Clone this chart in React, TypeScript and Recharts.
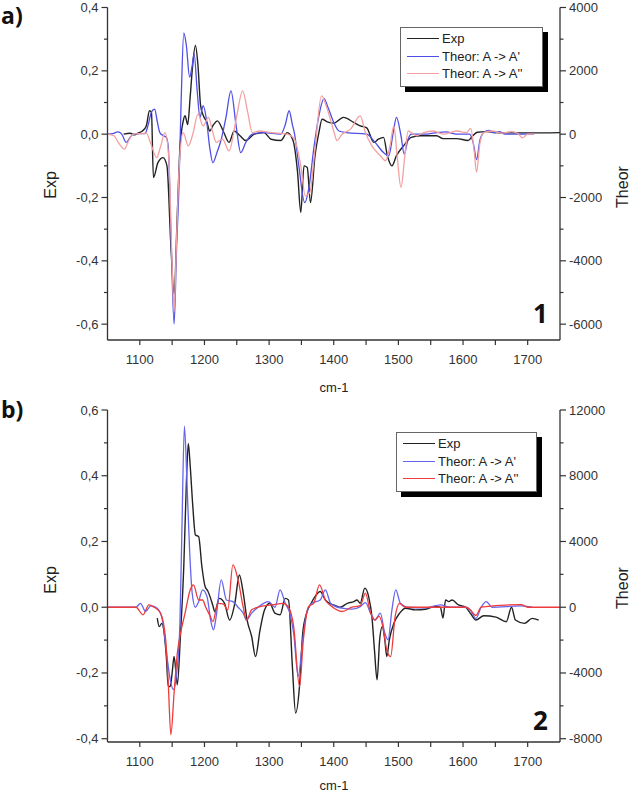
import React from 'react';
import { LineChart, Line, XAxis, YAxis, Legend } from 'recharts';

const FONT = "'Liberation Sans', Arial, sans-serif";
const INK = '#333';

// wavenumber axis (cm-1)
const xTicks = [1100, 1150, 1200, 1250, 1300, 1350, 1400, 1450, 1500, 1550, 1600, 1650, 1700];
const xLabels = [1100, 1200, 1300, 1400, 1500, 1600, 1700];

// panel a axes
const expTicksA = [-0.6, -0.5, -0.4, -0.3, -0.2, -0.1, 0, 0.1, 0.2, 0.3, 0.4];
const expLabelsA = [-0.6, -0.4, -0.2, 0, 0.2, 0.4];
const theorTicksA = [-6000, -5000, -4000, -3000, -2000, -1000, 0, 1000, 2000, 3000, 4000];
const theorLabelsA = [-6000, -4000, -2000, 0, 2000, 4000];

// panel b axes
const expTicksB = [-0.4, -0.3, -0.2, -0.1, 0, 0.1, 0.2, 0.3, 0.4, 0.5, 0.6];
const expLabelsB = [-0.4, -0.2, 0, 0.2, 0.4, 0.6];
const theorTicksB = [-8000, -6000, -4000, -2000, 0, 2000, 4000, 6000, 8000, 10000, 12000];
const theorLabelsB = [-8000, -4000, 0, 4000, 8000, 12000];

const seriesNames = ['Exp', "Theor: A -> A'", "Theor: A -> A''"];

// ---- panel a (compound 1) ----
const expA: [number, number][] = [
  [1075, 0], [1085, 0.003], [1092, -0.002], [1098, 0.004], [1104, 0.01], [1110, 0.026], [1115, 0.074],
  [1118, 0.07], [1121, -0.137], [1128, -0.09], [1136, -0.074], [1142, -0.1], [1148, -0.35], [1153, -0.505],
  [1158, -0.25], [1162, -0.047], [1167, 0.04], [1170, 0.058], [1174, 0.03], [1178, 0.12], [1181, 0.2],
  [1186, 0.28], [1190, 0.216], [1194, 0.09], [1199, 0.055], [1204, 0.037], [1208, 0.01], [1214, 0.03],
  [1220, 0.042], [1229, 0.01], [1238, -0.026], [1246, 0.01], [1255, -0.005], [1264, -0.02], [1277, 0],
  [1292, 0.005], [1303, -0.016], [1318, -0.02], [1328, 0.005], [1337, -0.02], [1344, -0.12], [1349, -0.247],
  [1354, -0.1], [1359, -0.105], [1364, -0.216], [1371, -0.068], [1377, 0.005], [1382, 0.047], [1390, 0.039],
  [1400, 0.035], [1415, 0.053], [1431, 0.037], [1441, 0.026], [1451, 0.02], [1462, -0.026], [1469, -0.016],
  [1477, -0.01], [1483, -0.068], [1490, -0.1], [1497, -0.068], [1508, -0.037], [1520, -0.01], [1533, -0.005],
  [1559, -0.005], [1569, -0.014], [1590, -0.014], [1608, -0.02], [1615, -0.005], [1622, 0.006], [1636, 0.008],
  [1660, 0.004], [1700, 0.004], [1750, 0.005],
];

const theor1A: [number, number][] = [
  [1050, 0], [1058, 20], [1066, 70], [1072, 0], [1079, -260], [1085, -100], [1090, 0], [1100, 20], [1108, 20],
  [1113, 300], [1118, 700], [1123, 790], [1127, 400], [1131, 50], [1136, -40], [1141, -100], [1144, -400],
  [1148, -3000], [1153, -6000], [1157, -3500], [1160, -2000], [1164, 1100], [1168, 3200], [1172, 2800],
  [1177, 1800], [1181, 2160], [1184, 2530], [1189, 1300], [1193, 530], [1198, 900], [1203, 470], [1208, -400],
  [1213, -900], [1219, -600], [1226, -160], [1233, 500], [1241, 1370], [1249, 260], [1256, -580], [1264, -260],
  [1274, 0], [1292, 50], [1318, 0], [1325, 300], [1331, 740], [1336, 300], [1339, 50], [1346, -1000],
  [1355, -2160], [1362, -1630], [1369, -470], [1377, 580], [1385, 1120], [1391, 850], [1400, 370], [1408, 100],
  [1420, 50], [1451, 0], [1464, -260], [1477, -580], [1485, -680], [1492, 50], [1497, 530], [1504, -50],
  [1509, -630], [1515, -160], [1520, 0], [1539, 0], [1560, 50], [1574, 70], [1590, 0], [1610, 0], [1616, -300],
  [1621, -800], [1626, -200], [1632, 50], [1640, 120], [1648, 40], [1656, 80], [1665, 0], [1690, 0], [1710, 0],
];

const theor2A: [number, number][] = [
  [1050, 0], [1060, -50], [1068, -300], [1076, -470], [1083, -200], [1090, 0], [1100, 20], [1110, 30],
  [1117, -300], [1126, -740], [1132, -400], [1139, 50], [1145, -800], [1149, -3500], [1153, -5600],
  [1157, -3200], [1161, -1000], [1167, 50], [1175, -370], [1182, 0], [1190, 630], [1198, 260], [1206, 530],
  [1213, 50], [1218, -260], [1228, -160], [1238, -530], [1249, 470], [1259, 1370], [1267, 680], [1274, 50],
  [1285, 100], [1303, 50], [1328, 0], [1339, -160], [1349, -1000], [1356, -1950], [1363, -1840], [1371, -470],
  [1381, 1210], [1390, 790], [1400, 100], [1405, -200], [1413, 0], [1426, 160], [1441, 580], [1449, 50],
  [1459, -370], [1472, -680], [1480, -840], [1487, -370], [1493, 260], [1498, -680], [1504, -1680],
  [1510, -680], [1515, 100], [1520, 50], [1528, -50], [1539, 50], [1554, 100], [1570, 0], [1590, 100],
  [1605, 50], [1612, 180], [1617, -500], [1621, -1200], [1626, -300], [1632, 50], [1645, 100], [1660, 30],
  [1675, 80], [1685, 20], [1692, -120], [1700, 0], [1710, 0],
];

// ---- panel b (compound 2) ----
const expB: [number, number][] = [
  [1127, -0.033], [1130, -0.059], [1134, -0.049], [1137, -0.069], [1141, -0.15], [1144, -0.241], [1147, -0.241],
  [1150, -0.2], [1153, -0.15], [1156, -0.2], [1158, -0.236], [1163, -0.079], [1168, 0.124], [1172, 0.377],
  [1175, 0.498], [1178, 0.428], [1182, 0.306], [1186, 0.22], [1191, 0.215], [1196, 0.124], [1201, 0.063],
  [1205, 0.05], [1209, 0.03], [1213, 0.005], [1216, -0.013], [1223, 0.027], [1231, 0.012], [1239, -0.039],
  [1247, 0.012], [1254, 0.098], [1260, 0.043], [1266, -0.039], [1273, -0.089], [1279, -0.15], [1286, -0.069],
  [1293, -0.008], [1301, 0.012], [1309, -0.018], [1317, -0.023], [1325, 0.027], [1330, 0.022], [1336, -0.18],
  [1341, -0.322], [1347, -0.241], [1352, -0.079], [1358, -0.018], [1365, 0.012], [1371, 0.032], [1379, 0.048],
  [1387, 0.022], [1395, 0.01], [1400, 0.007], [1410, 0], [1421, 0.012], [1431, 0.017], [1436, 0.022],
  [1441, 0.012], [1448, 0.058], [1454, 0.032], [1459, -0.028], [1463, -0.13], [1467, -0.221], [1471, -0.099],
  [1475, -0.059], [1479, -0.099], [1482, -0.15], [1486, -0.099], [1493, -0.049], [1502, -0.018], [1511, -0.003],
  [1526, -0.008], [1542, -0.006], [1557, 0.002], [1565, 0], [1569, -0.033], [1573, 0.022], [1578, 0.017],
  [1583, 0.022], [1593, 0.007], [1604, 0], [1612, -0.02], [1620, -0.039], [1632, -0.026], [1651, -0.03],
  [1667, -0.044], [1675, 0], [1681, -0.039], [1695, -0.049], [1707, -0.034], [1717, -0.039],
];

const theor1B: [number, number][] = [
  [1050, 0], [1094, 0], [1101, 240], [1109, -260], [1117, 80], [1127, -60], [1135, -780], [1142, -3000],
  [1147, -4400], [1152, -5000], [1157, -4000], [1162, -1000], [1165, 4500], [1169, 11020], [1173, 7540],
  [1177, 3480], [1181, 860], [1186, 0], [1191, 340], [1197, 1060], [1204, 640], [1210, -880], [1214, -1380],
  [1218, -600], [1226, 1660], [1234, 440], [1244, 340], [1252, 0], [1260, -360], [1265, -780], [1273, -360],
  [1283, 0], [1299, 340], [1309, 0], [1317, 1060], [1325, 240], [1332, -360], [1338, -1580], [1345, -4200],
  [1352, -1980], [1358, -360], [1366, 240], [1379, 440], [1387, 1060], [1395, 240], [1400, 100], [1413, -60],
  [1428, -120], [1441, 40], [1449, 280], [1457, -360], [1464, -780], [1472, -360], [1479, -1580],
  [1484, -1980], [1490, -160], [1496, 1060], [1503, 240], [1513, 0], [1542, -40], [1565, 140], [1580, 0],
  [1604, 0], [1612, -200], [1620, -680], [1628, 0], [1636, 340], [1645, 0], [1688, 80], [1707, 0],
];

const theor2B: [number, number][] = [
  [1050, 0], [1094, 0], [1105, -460], [1114, 140], [1122, 0], [1132, -360], [1140, -1980], [1144, -4620],
  [1148, -7760], [1153, -5220], [1158, -2800], [1163, -1580], [1170, -360], [1178, 1060], [1183, 1360],
  [1191, 440], [1197, 440], [1202, 0], [1209, -560], [1213, -880], [1221, 240], [1229, 200], [1236, -160],
  [1244, 2580], [1252, 1660], [1260, 0], [1265, -780], [1273, -160], [1283, 0], [1304, 140], [1322, 240],
  [1330, 0], [1338, -1180], [1347, -4820], [1353, -1980], [1361, 40], [1369, 240], [1378, 1360], [1387, 440],
  [1397, 40], [1413, -260], [1428, 0], [1441, 100], [1449, 860], [1457, -360], [1463, -780], [1470, -560],
  [1476, -1180], [1482, -2600], [1488, -3000], [1495, -560], [1502, 240], [1511, 0], [1605, 0], [1611, -160],
  [1620, -500], [1628, 0], [1690, 160], [1700, 0], [1750, 0],
];

const toPoints = (pairs: [number, number][]) => pairs.map(([x, y]) => ({ x, y }));

const hasValue = (list: number[], v: number) => list.some((l) => Math.abs(l - v) < 1e-6);
const fmtExp = (v: number) => v.toFixed(1).replace('.', ',');
const fmtTheor = (v: number) => String(v);

type Side = 'left' | 'right' | 'bottom' | 'top';

// tick renderer: with tickSize=0 and tickMargin=0, (x, y) sits on the axis line
const makeTick = (side: Side, labels: number[], fmt: ((v: number) => string) | null) => (p: any) => {
  const { x, y, payload } = p;
  const v = payload.value;
  const major = hasValue(labels, v);
  const len = side === 'top' || side === 'bottom' ? 5 : major ? 6 : 3.5;
  const line =
    side === 'left' ? { x1: x - len, x2: x, y1: y, y2: y }
    : side === 'right' ? { x1: x, x2: x + len, y1: y, y2: y }
    : { x1: x, x2: x, y1: y, y2: y + len };
  let label = null;
  if (fmt && major) {
    const t =
      side === 'left' ? { x: x - 9, y: y + 4.5, anchor: 'end' }
      : side === 'right' ? { x: x + 9, y: y + 4.5, anchor: 'start' }
      : { x, y: y + 24, anchor: 'middle' };
    label = (
      <text x={t.x} y={t.y} textAnchor={t.anchor} fontSize={13} fontFamily={FONT} fill={INK}>
        {fmt(v)}
      </text>
    );
  }
  return (
    <g>
      <line {...line} stroke={INK} strokeWidth={1.2} />
      {label}
    </g>
  );
};

const LegendBox = ({ colors, width }: { colors: string[]; width: number }) => (
  <div
    style={{
      width,
      background: '#fff',
      border: '1px solid #666',
      boxShadow: '5px 5px 0 #000',
      padding: '2px 0 3px 6px',
      boxSizing: 'border-box',
      fontFamily: FONT,
      fontSize: 13,
      color: '#222',
    }}
  >
    {seriesNames.map((name, i) => (
      <div key={name} style={{ display: 'flex', alignItems: 'center', height: 17.5 }}>
        <span style={{ display: 'inline-block', width: 32, height: 0, borderTop: `1.5px solid ${colors[i]}`, marginRight: 3 }} />
        <span>{name}</span>
      </div>
    ))}
  </div>
);

interface PanelProps {
  height: number;
  margin: { top: number; right: number; bottom: number; left: number };
  exp: [number, number][];
  theor1: [number, number][];
  theor2: [number, number][];
  expDomain: [number, number];
  theorDomain: [number, number];
  expTicks: number[];
  expLabels: number[];
  theorTicks: number[];
  theorLabels: number[];
  colors: string[];
  legendPos: { left: number; top: number; width: number };
}

const Panel = (p: PanelProps) => (
  <LineChart width={632} height={p.height} margin={p.margin}>
    <XAxis
      xAxisId="b" type="number" dataKey="x" domain={[1050, 1750]} ticks={xTicks} interval={0}
      allowDataOverflow height={30} tickLine={false} tickSize={0} tickMargin={0}
      stroke={INK} strokeWidth={1.3} tick={makeTick('bottom', xLabels, fmtTheor)}
    />
    <XAxis
      xAxisId="t" orientation="top" mirror type="number" dataKey="x" domain={[1050, 1750]} ticks={xTicks}
      interval={0} allowDataOverflow height={0} tickLine={false} tickSize={0} tickMargin={0}
      stroke={INK} strokeWidth={1.3} tick={makeTick('top', xLabels, null)}
    />
    <YAxis
      yAxisId="l" type="number" domain={p.expDomain} ticks={p.expTicks} interval={0} allowDataOverflow
      width={60} tickLine={false} tickSize={0} tickMargin={0} stroke={INK} strokeWidth={1.3}
      tick={makeTick('left', p.expLabels, fmtExp)}
    />
    <YAxis
      yAxisId="r" orientation="right" type="number" domain={p.theorDomain} ticks={p.theorTicks} interval={0}
      allowDataOverflow width={60} tickLine={false} tickSize={0} tickMargin={0} stroke={INK} strokeWidth={1.3}
      tick={makeTick('right', p.theorLabels, fmtTheor)}
    />
    <Legend
      layout="vertical" align="center" verticalAlign="middle"
      wrapperStyle={{ left: p.legendPos.left, top: p.legendPos.top, width: p.legendPos.width }}
      content={() => <LegendBox colors={p.colors} width={p.legendPos.width} />}
    />
    <Line
      xAxisId="b" yAxisId="l" data={toPoints(p.exp)} dataKey="y" name={seriesNames[0]} type="monotone"
      stroke={p.colors[0]} strokeWidth={1.4} dot={false} isAnimationActive={false}
    />
    <Line
      xAxisId="b" yAxisId="r" data={toPoints(p.theor1)} dataKey="y" name={seriesNames[1]} type="monotone"
      stroke={p.colors[1]} strokeWidth={1.3} dot={false} isAnimationActive={false}
    />
    <Line
      xAxisId="b" yAxisId="r" data={toPoints(p.theor2)} dataKey="y" name={seriesNames[2]} type="monotone"
      stroke={p.colors[2]} strokeWidth={1.3} dot={false} isAnimationActive={false}
    />
  </LineChart>
);

const abs = (left: number, top: number, extra: React.CSSProperties = {}): React.CSSProperties => ({
  position: 'absolute',
  left,
  top,
  ...extra,
});

const rotated = (cx: number, cy: number, size: number): React.CSSProperties => ({
  position: 'absolute',
  left: cx,
  top: cy,
  transform: 'translate(-50%, -50%) rotate(-90deg)',
  fontFamily: FONT,
  fontSize: size,
  color: '#222',
  whiteSpace: 'nowrap',
  lineHeight: 1,
});

const centered = (cx: number, cy: number): React.CSSProperties => ({
  position: 'absolute',
  left: cx,
  top: cy,
  transform: 'translate(-50%, -50%)',
  fontFamily: FONT,
  fontSize: 13,
  color: '#222',
  lineHeight: 1,
});

const bold = (size: number): React.CSSProperties => ({
  fontFamily: "'Open Sans', 'Noto Sans', sans-serif",
  fontWeight: 700,
  fontSize: size,
  lineHeight: 1,
  color: '#111',
});

export default function App() {
  return (
    <div style={{ position: 'absolute', left: 0, top: 0, width: 632, height: 793, background: '#fff', overflow: 'hidden' }}>
      <div style={abs(0, 0)}>
        <Panel
          height={400}
          margin={{ top: 7.5, right: 12, bottom: 30, left: 47.5 }}
          exp={expA} theor1={theor1A} theor2={theor2A}
          expDomain={[-0.65, 0.4]} theorDomain={[-6500, 4000]}
          expTicks={expTicksA} expLabels={expLabelsA}
          theorTicks={theorTicksA} theorLabels={theorLabelsA}
          colors={['#222', '#4f4fe6', '#f4a0a0']}
          legendPos={{ left: 400, top: 27, width: 143 }}
        />
      </div>
      <div style={abs(0, 400)}>
        <Panel
          height={393}
          margin={{ top: 10, right: 12, bottom: 21, left: 47.5 }}
          exp={expB} theor1={theor1B} theor2={theor2B}
          expDomain={[-0.41, 0.6]} theorDomain={[-8200, 12000]}
          expTicks={expTicksB} expLabels={expLabelsB}
          theorTicks={theorTicksB} theorLabels={theorLabelsB}
          colors={['#222', '#6565ee', '#ee3b3b']}
          legendPos={{ left: 396, top: 32, width: 141 }}
        />
      </div>

      <div style={abs(1, 4, bold(23))}>a)</div>
      <div style={abs(1, 398, bold(23))}>b)</div>
      <div style={abs(533, 300, bold(26))}>1</div>
      <div style={abs(533, 707, bold(26))}>2</div>

      <div style={rotated(51, 185, 16)}>Exp</div>
      <div style={rotated(51, 580, 16)}>Exp</div>
      <div style={rotated(623, 187, 16)}>Theor</div>
      <div style={rotated(623, 588, 16)}>Theor</div>

      <div style={centered(334, 387)}>cm-1</div>
      <div style={centered(334, 785)}>cm-1</div>
    </div>
  );
}
